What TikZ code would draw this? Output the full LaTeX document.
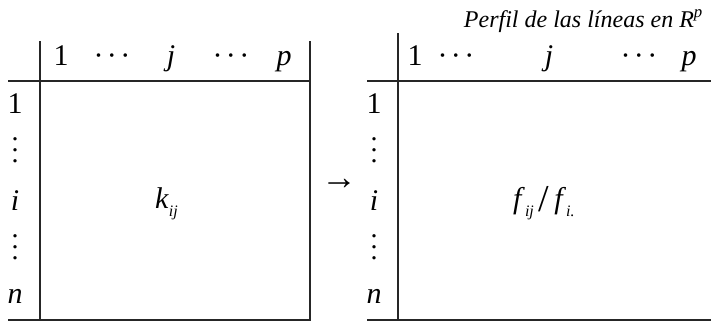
\documentclass[tikz,border=0pt]{standalone}
\usepackage{fontspec}
\setmainfont{Liberation Serif}
\newcommand{\hdots}{·\kern3.5pt·\kern3.5pt·}
\newcommand{\vdotsbox}{\vbox{\baselineskip=11pt\lineskiplimit=-20pt\hbox{.}\hbox{.}\hbox{.}}}
\begin{document}
\begin{tikzpicture}[x=1pt,y=-1pt,
  rule/.style={line width=1.3pt, draw=black!85},
  lab/.style={anchor=base, inner sep=0pt, font=\fontsize{30}{32}\selectfont},
  ilab/.style={lab, font=\fontsize{30}{32}\selectfont\itshape},
  vd/.style={anchor=base, inner sep=0pt, font=\fontsize{28}{11}\selectfont},
  cell/.style={anchor=base west, inner sep=0pt, font=\fontsize{30}{32}\selectfont}]
\useasboundingbox (0,0) rectangle (711,322);
% left table rules
\draw[rule] (40,41) -- (40,321);
\draw[rule] (310,41) -- (310,321);
\draw[rule] (8,81) -- (311,81);
\draw[rule] (8,320) -- (311,320);
% right table rules
\draw[rule] (398,33) -- (398,321);
\draw[rule] (367,81) -- (711,81);
\draw[rule] (367,320) -- (711,320);
% left header
\node[lab]  (lh1) at (61,65) {1};
\node[lab]  (lhd1) at (112,65) {\hdots};
\node[ilab] (lhj) at (171,65) {j};
\node[lab]  (lhd2) at (231,65) {\hdots};
\node[ilab] (lhp) at (284,65) {p};
% left rows
\node[lab]  (lr1) at (15,113) {1};
\node[vd]   (lrd1) at (15,162) {\vdotsbox};
\node[ilab] (lri) at (15,210) {i};
\node[vd]   (lrd2) at (15,259) {\vdotsbox};
\node[ilab] (lrn) at (15,303) {n};
% left cell
\node[cell] (kij) at (155,208)
  {\textit{k}\raisebox{-8pt}{\fontsize{16}{16}\selectfont\itshape ij}};
% arrow
\node[lab, font=\fontsize{36}{36}\selectfont] (arr) at (339,189) {→};
% right title
\node[anchor=base east, inner sep=0pt, font=\fontsize{24}{26}\selectfont\itshape] (title) at (703,27)
  {Perfil de las líneas en R\textsuperscript{p}};
% right header
\node[lab]  (rh1) at (415,65) {1};
\node[lab]  (rhd1) at (456,65) {\hdots};
\node[ilab] (rhj) at (549,65) {j};
\node[lab]  (rhd2) at (639,65) {\hdots};
\node[ilab] (rhp) at (689,65) {p};
% right rows
\node[lab]  (rr1) at (374,113) {1};
\node[vd]   (rrd1) at (374,162) {\vdotsbox};
\node[ilab] (rri) at (374,210) {i};
\node[vd]   (rrd2) at (374,259) {\vdotsbox};
\node[ilab] (rrn) at (374,303) {n};
% right cell
\node[cell] (fij) at (513,208)
  {\textit{f}\raisebox{-8pt}{\fontsize{16}{16}\selectfont\itshape ij}\,\raisebox{-3pt}{\fontsize{38}{38}\selectfont /}\,\textit{f}\raisebox{-8pt}{\fontsize{16}{16}\selectfont\itshape i.}};
\end{tikzpicture}
\end{document}
